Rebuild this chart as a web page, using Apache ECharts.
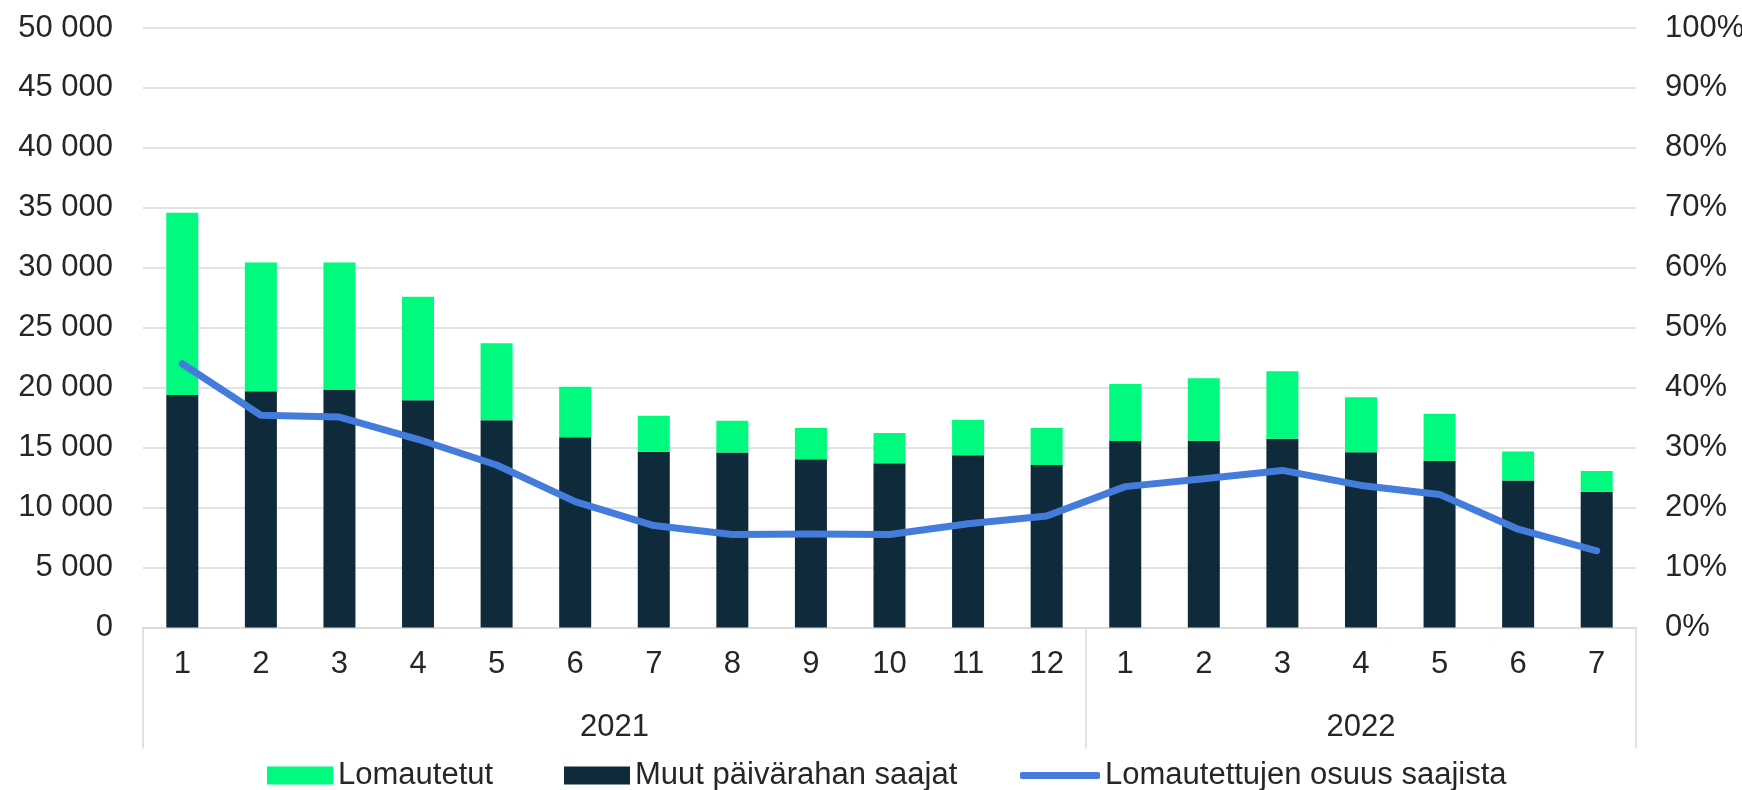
<!DOCTYPE html>
<html>
<head>
<meta charset="utf-8">
<script src="https://cdn.jsdelivr.net/npm/echarts@6/dist/echarts.min.js"></script>
<style>
  html, body { margin: 0; padding: 0; background: #fff; }
  #main { width: 1742px; height: 790px; }
</style>
</head>
<body>
<div id="main"></div>
<script>
// kuukaudet ja vuodet
const months = ['1', '2', '3', '4', '5', '6', '7', '8', '9', '10', '11', '12', '1', '2', '3', '4', '5', '6', '7']
const years = ['2021', '2022']
const monthsPerYear = [12, 7]
// lomautetut (vihreä)
const lomautetut = [15200, 10750, 10650, 8640, 6420, 4220, 3010, 2650, 2610, 2530, 2970, 3080, 4760, 5200, 5620, 4590, 3920, 2420, 1720]
// muut päivärahan saajat (tumma)
const muut = [19400, 19700, 19800, 18950, 17280, 15860, 14660, 14600, 14030, 13690, 14360, 13550, 15550, 15580, 15750, 14610, 13910, 12250, 11330]
// lomautettujen osuus saajista, %
const osuus = [44.0, 35.4, 35.1, 31.4, 27.1, 21.0, 17.0, 15.5, 15.6, 15.5, 17.3, 18.6, 23.5, 24.8, 26.2, 23.7, 22.2, 16.4, 12.8]
const leftTicks = [0, 50000, 5000]
const rightTicks = [0, 100, 10]

const font = 'Liberation Sans'
const fontSize = 31
const textColor = '#262626'
const gridColor = '#d9d9d9'

// vuosien rajat ja keskikohdat
const bounds = [0]
monthsPerYear.forEach((n) => bounds.push(bounds[bounds.length - 1] + n))
const yearCenters = years.map((y, i) => (bounds[i] + bounds[i + 1]) / 2)

const legendText = { fontSize: fontSize, color: textColor, fontFamily: font }

const mChart = echarts.init(document.getElementById('main'))
const options = {
  animation: false,
  textStyle: { fontFamily: font },
  grid: { left: 143, right: 106, top: 28, bottom: 162.5, outerBoundsMode: 'none' },
  // jokainen selite omana, jotta paikat osuvat
  legend: [
    { data: ['Lomautetut'], left: 262, top: 755, itemWidth: 66, itemHeight: 18, icon: 'rect', textStyle: legendText },
    { data: ['Muut päivärahan saajat'], left: 559, top: 755, itemWidth: 66, itemHeight: 18, icon: 'rect', textStyle: legendText },
    { data: ['Lomautettujen osuus saajista'], left: 1015, top: 755, itemWidth: 80, itemHeight: 7, icon: 'roundRect', textStyle: legendText }
  ],
  xAxis: [
    {
      type: 'category',
      data: months,
      axisLine: { lineStyle: { color: gridColor, width: 1.5 } },
      axisTick: { show: false },
      axisLabel: { fontSize: fontSize, color: textColor, margin: 21, interval: 0 }
    },
    {
      type: 'value',
      min: 0,
      max: bounds[bounds.length - 1],
      position: 'bottom',
      axisLine: { show: false },
      splitLine: { show: false },
      axisTick: { show: true, customValues: bounds, length: 121, lineStyle: { color: gridColor, width: 1.5 } },
      axisLabel: {
        customValues: yearCenters,
        fontSize: fontSize,
        color: textColor,
        margin: 84,
        formatter: (v) => years[yearCenters.indexOf(v)] || ''
      }
    }
  ],
  yAxis: [
    {
      type: 'value',
      min: leftTicks[0],
      max: leftTicks[1],
      interval: leftTicks[2],
      axisLine: { show: false },
      axisTick: { show: false },
      splitLine: { lineStyle: { color: gridColor, width: 1.5 } },
      axisLabel: {
        fontSize: fontSize,
        color: textColor,
        margin: 30,
        formatter: (v) => String(v).replace(/\B(?=(\d{3})+(?!\d))/g, ' ')
      }
    },
    {
      type: 'value',
      min: rightTicks[0],
      max: rightTicks[1],
      interval: rightTicks[2],
      axisLine: { show: false },
      axisTick: { show: false },
      splitLine: { show: false },
      axisLabel: { fontSize: fontSize, color: textColor, margin: 29, formatter: (v) => v + '%' }
    }
  ],
  series: [
    {
      name: 'Muut päivärahan saajat',
      type: 'bar',
      stack: 'saajat',
      data: muut,
      barWidth: 32,
      itemStyle: { color: '#0f2a3b' }
    },
    {
      name: 'Lomautetut',
      type: 'bar',
      stack: 'saajat',
      data: lomautetut,
      barWidth: 32,
      itemStyle: { color: '#00fa7d' }
    },
    {
      name: 'Lomautettujen osuus saajista',
      type: 'line',
      yAxisIndex: 1,
      data: osuus,
      showSymbol: false,
      symbol: 'none',
      itemStyle: { color: '#447cdc' },
      lineStyle: { color: '#447cdc', width: 7, cap: 'round', join: 'round' }
    }
  ]
}
mChart.setOption(options)
</script>
</body>
</html>
